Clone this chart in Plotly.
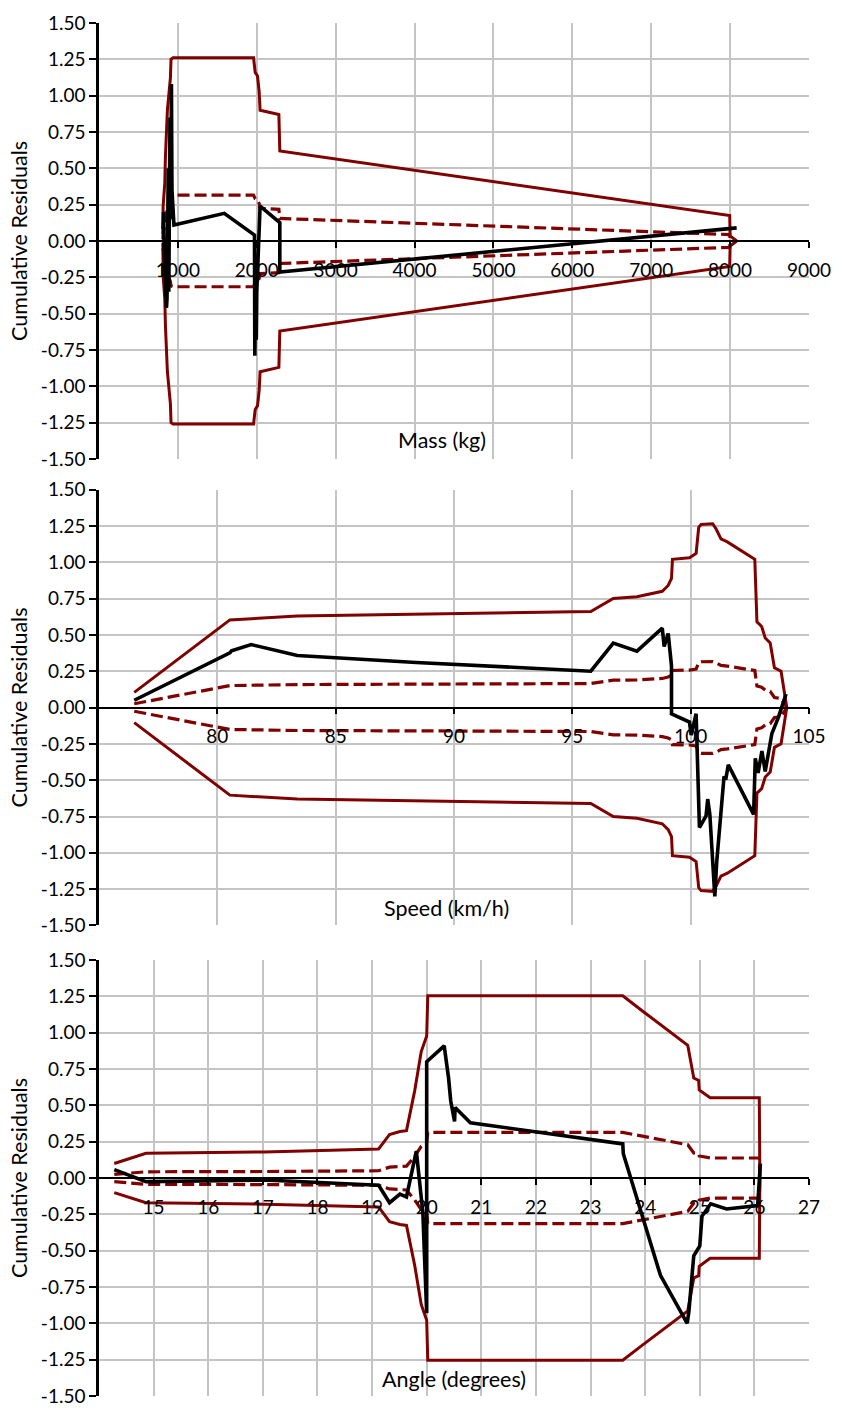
import plotly.graph_objects as go

# ---------------- data ----------------
# Panel 1: Mass (kg)
mass_band = [810, 813, 834, 842, 867, 888, 905, 913, 938, 1959, 1980, 2009, 2030, 2042, 2280, 2292, 7995, 8000, 8083]
mass_solid_up = [0.05, 0.24, 0.40, 0.58, 0.90, 1.01, 1.12, 1.25, 1.26, 1.26, 1.16, 1.135, 1.03, 0.90, 0.87, 0.62, 0.175, 0.035, 0.0]
mass_dash_up = [0.012, 0.06, 0.10, 0.145, 0.225, 0.25, 0.28, 0.31, 0.315, 0.315, 0.29, 0.284, 0.258, 0.225, 0.218, 0.155, 0.044, 0.009, 0.0]
mass_x = [812, 818, 825, 840, 855, 862, 878, 885, 900, 910, 918, 925, 935, 950, 1588, 1971, 1975, 1978, 1982, 1988, 1994, 2000, 2042, 2292, 2292, 8083]
mass_cure = [0.08, 0.20, -0.05, -0.30, -0.46, -0.40, 0.50, -0.35, 0.85, 0.15, 1.08, 0.35, 0.20, 0.11, 0.19, 0.04, -0.79, -0.60, -0.78, -0.20, -0.68, -0.35, 0.24, 0.126, -0.214, 0.09]

# Panel 2: Speed (km/h)
speed_band = [76.49, 80.53, 83.38, 95.78, 96.73, 97.73, 98.8, 99.05, 99.19, 99.23, 99.95, 100.23, 100.34, 100.44, 100.93,
              101.07, 101.28, 101.55, 102.71, 102.76, 102.8, 103.0, 103.15, 103.36, 103.54, 103.82, 103.99, 104.06]
speed_solid_up = [0.104, 0.603, 0.63, 0.66, 0.75, 0.762, 0.80, 0.84, 0.888, 1.02, 1.03, 1.06, 1.24, 1.26, 1.265,
                  1.23, 1.16, 1.14, 1.02, 0.81, 0.59, 0.558, 0.478, 0.444, 0.274, 0.25, 0.093, 0.0]
speed_dash_up = [0.026, 0.151, 0.158, 0.165, 0.188, 0.19, 0.20, 0.21, 0.222, 0.255, 0.258, 0.265, 0.31, 0.315, 0.316,
                 0.308, 0.29, 0.285, 0.255, 0.203, 0.148, 0.14, 0.12, 0.111, 0.069, 0.063, 0.023, 0.0]
speed_x = [76.49, 80.53, 80.6, 81.43, 83.38, 88.4, 95.78, 96.73, 97.73, 98.8, 98.88, 99.05, 99.19, 99.19, 99.95,
           100.02, 100.23, 100.3, 100.37, 100.65, 100.72, 100.81, 101.02, 101.1, 101.41, 101.48, 101.59, 102.66,
           102.73, 102.85, 103.01, 103.15, 103.43, 103.71, 104.03]
speed_cure = [0.05, 0.376, 0.39, 0.433, 0.358, 0.31, 0.25, 0.444, 0.388, 0.546, 0.42, 0.51, 0.286, -0.043, -0.10,
              -0.19, -0.043, -0.55, -0.826, -0.746, -0.63, -0.735, -1.30, -1.064, -0.474, -0.497, -0.395, -0.735,
              -0.35, -0.45, -0.30, -0.44, -0.18, -0.066, 0.093]

# Panel 3: Angle (degrees)
angle_band = [14.28, 14.86, 17.03, 19.12, 19.32, 19.51, 19.63, 19.78, 19.9, 20.0, 20.02, 23.59, 23.95, 24.78, 24.89,
              24.98, 24.99, 25.19, 26.09, 26.1]
angle_solid_up = [0.10, 0.17, 0.18, 0.20, 0.30, 0.32, 0.326, 0.60, 0.87, 0.978, 1.254, 1.254, 1.15, 0.914, 0.688,
                  0.672, 0.607, 0.552, 0.552, 0.0]
angle_dash_up = [0.025, 0.043, 0.045, 0.05, 0.075, 0.08, 0.082, 0.15, 0.218, 0.245, 0.314, 0.314, 0.288, 0.229, 0.172,
                 0.168, 0.152, 0.138, 0.138, 0.0]
angle_x = [14.28, 14.86, 17.03, 19.12, 19.32, 19.51, 19.63, 19.81, 19.93, 20.0, 20.0, 20.32, 20.4, 20.44, 20.51,
           20.52, 20.8, 21.96, 23.59, 23.6, 24.28, 24.77, 24.8, 24.89, 25.0, 25.04, 25.2, 25.49, 26.06, 26.11]
angle_cure = [0.058, -0.025, -0.014, -0.05, -0.17, -0.11, -0.13, 0.186, -0.24, -0.93, 0.80, 0.91, 0.69, 0.53, 0.39,
              0.485, 0.38, 0.32, 0.235, 0.167, -0.67, -1.0, -0.92, -0.535, -0.467, -0.263, -0.177, -0.213, -0.19, 0.1]

# axes
y_tick_vals = [1.5, 1.25, 1.0, 0.75, 0.5, 0.25, 0.0, -0.25, -0.5, -0.75, -1.0, -1.25, -1.5]
y_tick_labels = ["1.50", "1.25", "1.00", "0.75", "0.50", "0.25", "0.00", "-0.25", "-0.50", "-0.75", "-1.00", "-1.25", "-1.50"]
mass_ticks = [1000, 2000, 3000, 4000, 5000, 6000, 7000, 8000, 9000]
speed_ticks = [80, 85, 90, 95, 100, 105]
angle_ticks = [15, 16, 17, 18, 19, 20, 21, 22, 23, 24, 25, 26, 27]
x_titles = ["Mass (kg)", "Speed (km/h)", "Angle (degrees)"]
y_title = "Cumulative Residuals"

panels = [
    (mass_band, mass_solid_up, mass_dash_up, mass_x, mass_cure, [0, 9000], 1000, mass_ticks),
    (speed_band, speed_solid_up, speed_dash_up, speed_x, speed_cure, [75, 105], 5, speed_ticks),
    (angle_band, angle_solid_up, angle_dash_up, angle_x, angle_cure, [14, 27], 1, angle_ticks),
]

# ---------------- figure ----------------
W, H = 842, 1418
ML, MR, MT, MB = 99, 24, 18, 11
PH = H - MT - MB
panel_px = [(18, 459), (490, 931), (966, 1407)]
title_pos = [(446, 440), (451, 913), (459, 1390)]

RED = "#800000"
GRID = "#c4c4c4"
FONT = "Lato"
TICK_SIZE = 19
TITLE_SIZE = 21.5

fig = go.Figure()
layout = dict(
    width=W, height=H,
    margin=dict(l=ML, r=MR, t=MT, b=MB),
    paper_bgcolor="white", plot_bgcolor="white",
    showlegend=False,
    font=dict(family=FONT, size=TICK_SIZE, color="black"),
    annotations=[],
)

def pfrac(py):
    return 1 - (py - MT) / PH

for i, (bx, sup, dup, cx, cy, xr, dt, tv) in enumerate(panels):
    n = i + 1
    xa = "x" if n == 1 else f"x{n}"
    ya = "y" if n == 1 else f"y{n}"
    xlab = f"x{n + 3}"
    top, bot = panel_px[i]
    dom = [pfrac(bot), pfrac(top)]
    mid = (dom[0] + dom[1]) / 2

    lw_red = 3
    dash = dict(color=RED, width=3.2, dash="12px,5px")
    fig.add_trace(go.Scatter(x=bx, y=sup, mode="lines", line=dict(color=RED, width=lw_red), xaxis=xa, yaxis=ya))
    fig.add_trace(go.Scatter(x=bx, y=[-v for v in sup], mode="lines", line=dict(color=RED, width=lw_red), xaxis=xa, yaxis=ya))
    fig.add_trace(go.Scatter(x=bx, y=dup, mode="lines", line=dash, xaxis=xa, yaxis=ya))
    fig.add_trace(go.Scatter(x=bx, y=[-v for v in dup], mode="lines", line=dash, xaxis=xa, yaxis=ya))
    fig.add_trace(go.Scatter(x=cx, y=cy, mode="lines", line=dict(color="black", width=3.6), xaxis=xa, yaxis=ya))
    # empty trace so the label axis (at y = 0) is drawn
    fig.add_trace(go.Scatter(x=[None], y=[None], mode="lines", xaxis=xlab, yaxis=ya, hoverinfo="skip"))

    xkey = "xaxis" if n == 1 else f"xaxis{n}"
    ykey = "yaxis" if n == 1 else f"yaxis{n}"
    layout[xkey] = dict(
        domain=[0, 1], anchor=ya, range=xr, dtick=dt, tick0=xr[0],
        showgrid=True, gridcolor=GRID, gridwidth=2,
        showticklabels=False, ticks="", zeroline=False, showline=False,
    )
    layout[f"xaxis{n + 3}"] = dict(
        overlaying=xa, anchor="free", position=mid, side="bottom", range=xr,
        tickmode="array", tickvals=tv, ticks="outside", ticklen=6, tickwidth=1.5, tickcolor="black",
        showline=True, linecolor="black", linewidth=1.6, showgrid=False, zeroline=False,
        tickfont=dict(family=FONT, size=TICK_SIZE, color="black"), ticklabelstandoff=6,
    )
    layout[ykey] = dict(
        domain=dom, anchor=xa, range=[-1.5, 1.5],
        tickmode="array", tickvals=y_tick_vals, ticktext=y_tick_labels,
        showgrid=True, gridcolor=GRID, gridwidth=2,
        ticks="outside", ticklen=7, tickwidth=2, tickcolor="black",
        showline=True, linecolor="black", linewidth=2.5, zeroline=False,
        tickfont=dict(family=FONT, size=TICK_SIZE, color="black"),
        title=dict(text=y_title, font=dict(family=FONT, size=TITLE_SIZE, color="black"), standoff=8),
    )
    tx, ty = title_pos[i]
    layout["annotations"].append(dict(
        text=x_titles[i], xref="paper", yref="paper",
        x=(tx - ML) / (W - ML - MR), y=pfrac(ty), xanchor="center", yanchor="middle",
        showarrow=False, font=dict(family=FONT, size=TITLE_SIZE, color="black"),
    ))

fig.update_layout(**layout)
fig.write_html("out.html")
